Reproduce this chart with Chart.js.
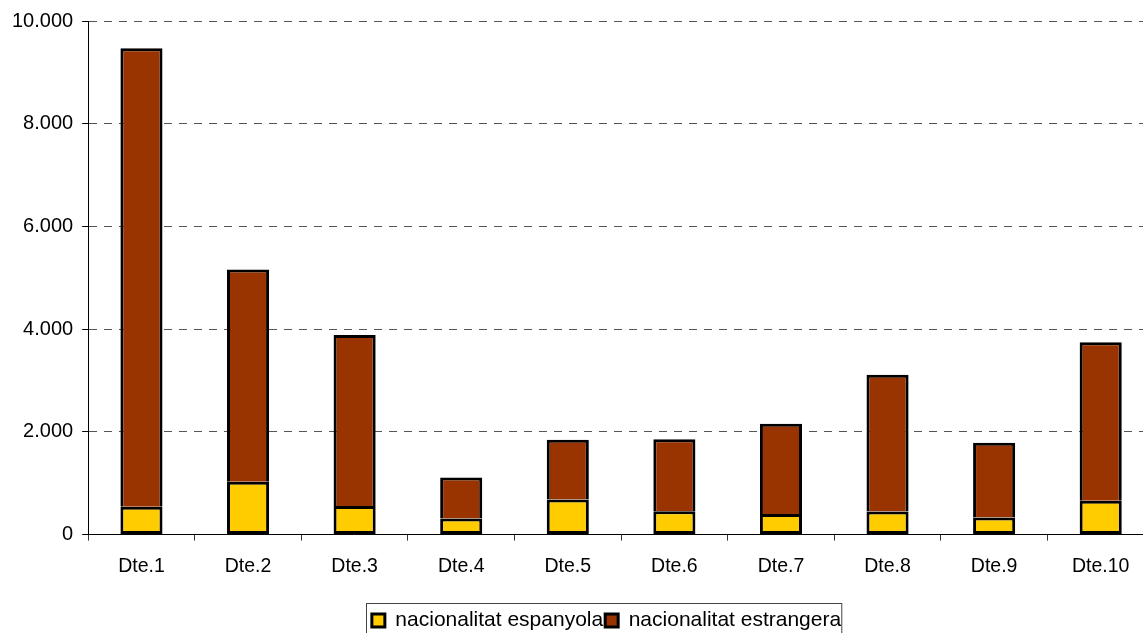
<!DOCTYPE html>
<html>
<head>
<meta charset="utf-8">
<script src="https://cdn.jsdelivr.net/npm/chart.js@4"></script>
<style>
  html, body { margin: 0; padding: 0; background: #fff; overflow: hidden; }
  #wrap { width: 1205px; height: 660px; }
</style>
</head>
<body>
<div id="wrap"><canvas id="currentChart" width="1205" height="660"></canvas></div>
<script>
const districts = ['Dte.1', 'Dte.2', 'Dte.3', 'Dte.4', 'Dte.5', 'Dte.6', 'Dte.7', 'Dte.8', 'Dte.9', 'Dte.10'];
const espanyola = [540, 1030, 555, 315, 685, 455, 400, 450, 335, 660];
const estrangera = [8930, 4130, 3330, 795, 1160, 1400, 1760, 2660, 1455, 3085];
const yTicks = [0, 2000, 4000, 6000, 8000, 10000];

const FONT = "'Liberation Sans', Arial, sans-serif";

document.addEventListener('DOMContentLoaded', () => {
    initChart();
});

// legend sits a bit right of centre and has a frame round it
const legendFrame = {
    id: 'legendFrame',
    afterLayout(chart) {
        const lg = chart.legend;
        if (!lg) return;
        const shift = 28;
        lg.left += shift;
        lg.right += shift;
        (lg.legendHitBoxes || []).forEach(b => { b.left += shift; });
    },
    afterDraw(chart) {
        const boxes = chart.legend && chart.legend.legendHitBoxes;
        if (!boxes || !boxes.length) return;
        const first = boxes[0];
        const last = boxes[boxes.length - 1];
        const ctx = chart.ctx;
        ctx.save();
        ctx.strokeStyle = '#444';
        ctx.lineWidth = 1;
        ctx.strokeRect(Math.round(first.left) - 5.5, first.top - 6.5, last.left + last.width - first.left + 6, first.height + 20);
        ctx.restore();
    }
};

function formatThousands(v) {
    return String(v).replace(/\B(?=(\d{3})+(?!\d))/g, '.');
}

function initChart() {
    const chart = document.getElementById('currentChart').getContext('2d');

    new Chart(chart, {
        type: 'bar',
        data: {
            labels: districts,
            datasets: [{
                label: 'nacionalitat espanyola',
                data: espanyola,
                backgroundColor: '#FFCC00',
                borderColor: '#000',
                borderWidth: 3,
                borderSkipped: false
            }, {
                label: 'nacionalitat estrangera',
                data: estrangera,
                backgroundColor: '#993300',
                borderColor: '#000',
                borderWidth: 3,
                borderSkipped: 'start'
            }]
        },
        options: {
            responsive: false,
            animation: false,
            barPercentage: 0.395,
            categoryPercentage: 1,
            layout: {
                padding: { top: 11, left: 3, right: 51, bottom: 19 }
            },
            plugins: {
                tooltip: { enabled: false },
                legend: {
                    position: 'bottom',
                    labels: {
                        color: '#000',
                        font: { family: FONT, size: 21 },
                        boxWidth: 13,
                        boxHeight: 13,
                        padding: 2
                    }
                }
            },
            scales: {
                x: {
                    stacked: true,
                    afterFit(scale) { scale.height += 16; },
                    grid: {
                        offset: true,
                        drawOnChartArea: false,
                        tickLength: 6,
                        tickColor: '#333'
                    },
                    border: { color: '#000', width: 1 },
                    ticks: {
                        color: '#000',
                        padding: 14,
                        font: { family: FONT, size: 19.5 }
                    }
                },
                y: {
                    stacked: true,
                    min: 0,
                    max: 10000,
                    afterBuildTicks(scale) {
                        scale.ticks = yTicks.map(v => ({ value: v }));
                    },
                    grid: {
                        color: '#555',
                        tickColor: '#000',
                        tickBorderDash: [],
                        tickLength: 6
                    },
                    border: { color: '#000', width: 1, dash: [8, 7] },
                    ticks: {
                        color: '#000',
                        padding: 9,
                        font: { family: FONT, size: 20 },
                        callback: v => formatThousands(v)
                    }
                }
            }
        },
        plugins: [legendFrame]
    });
}
</script>
</body>
</html>
